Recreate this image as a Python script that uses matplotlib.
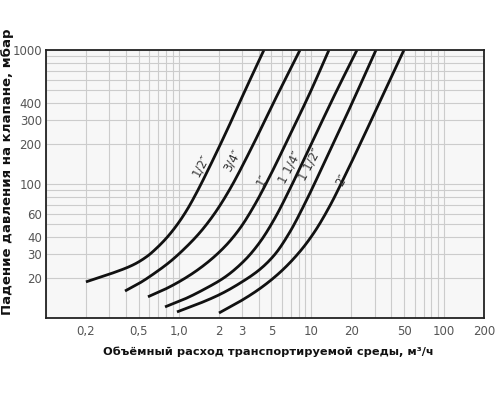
import numpy as np
import matplotlib.pyplot as plt
from matplotlib.ticker import FixedLocator, NullFormatter, LogLocator

# flow rate, m3/h  /  pressure drop, mbar
x_12 = [0.200, 0.303, 0.453, 0.577, 0.686, 0.816, 0.971, 1.155, 1.374, 1.721, 2.312, 3.16, 4.39]
y_12 = [18.6, 21.3, 24.9, 28.8, 33.4, 39.9, 49.5, 64.1, 87.3, 136.2, 251.6, 497, 1000]

x_34 = [0.394, 0.511, 0.663, 0.860, 1.116, 1.447, 1.877, 2.435, 3.445, 5.32, 8.21]
y_34 = [15.9, 18.3, 21.7, 26.3, 33.2, 43.5, 60.8, 91.8, 176.3, 425.4, 1000]

x_1 = [0.587, 0.789, 1.116, 1.578, 2.233, 2.897, 3.758, 4.88, 6.90, 9.76, 13.57]
y_1 = [14.4, 16.4, 19.8, 25.1, 34.2, 46.7, 70.5, 115, 232.7, 478.8, 1000]

x_114 = [0.789, 1.116, 1.578, 2.233, 3.16, 4.10, 5.32, 6.90, 9.76, 15.06, 22.07]
y_114 = [12.1, 13.9, 16.5, 20.2, 27.1, 36.9, 55.8, 92.2, 189.7, 467.5, 1000]

x_112 = [0.971, 1.447, 2.047, 2.897, 4.10, 5.32, 6.90, 8.95, 12.66, 19.54, 30.68]
y_112 = [11.1, 12.9, 15.0, 18.2, 23.1, 29.9, 44.0, 71.8, 147.7, 371.6, 1000]

x_2 = [2.013, 2.897, 4.10, 5.80, 8.21, 10.64, 13.81, 17.92, 25.34, 35.86, 49.86]
y_2 = [10.9, 13.3, 16.6, 21.9, 31.4, 44.4, 68.9, 115.3, 237.4, 497, 1000]

curves = [(x_12, y_12), (x_34, y_34), (x_1, y_1), (x_114, y_114), (x_112, y_112), (x_2, y_2)]

names = ['1/2″', '3/4″', '1″', '1 1/4″', '1 1/2″', '2″']
label_x = [1.47, 2.52, 4.24, 6.9, 9.76, 17.0]
label_y = [139, 151, 107, 132, 139, 107]

xticks = [0.2, 0.5, 1, 2, 3, 5, 10, 20, 50, 100, 200]
xticklabels = ['0,2', '0,5', '1,0', '2', '3', '5', '10', '20', '50', '100', '200']
yticks = [20, 30, 40, 60, 100, 200, 300, 400, 1000]
yticklabels = ['20', '30', '40', '60', '100', '200', '300', '400', '1000']


def pchip(x, y, t):
    # monotone cubic Hermite, only used to draw a smooth line through the points
    h = np.diff(x)
    d = np.diff(y) / h
    m = np.zeros_like(y)
    m[0], m[-1] = d[0], d[-1]
    for k in range(1, len(x) - 1):
        if d[k - 1] * d[k] > 0:
            w1 = 2 * h[k] + h[k - 1]
            w2 = h[k] + 2 * h[k - 1]
            m[k] = (w1 + w2) / (w1 / d[k - 1] + w2 / d[k])
    i = np.clip(np.searchsorted(x, t) - 1, 0, len(x) - 2)
    s = (t - x[i]) / h[i]
    h00 = 2 * s**3 - 3 * s**2 + 1
    h10 = s**3 - 2 * s**2 + s
    h01 = -2 * s**3 + 3 * s**2
    h11 = s**3 - s**2
    return h00 * y[i] + h10 * h[i] * m[i] + h01 * y[i + 1] + h11 * h[i] * m[i + 1]


fig = plt.figure(figsize=(5, 4), dpi=100)
ax = fig.add_axes([0.092, 0.205, 0.876, 0.67])
ax.set_facecolor('#f7f7f7')
ax.set_xscale('log')
ax.set_yscale('log')
ax.set_xlim(0.1, 200)
ax.set_ylim(10, 1000)

# grid on every log subdivision
ax.xaxis.set_minor_locator(LogLocator(base=10, subs=np.arange(1, 10)))
ax.yaxis.set_minor_locator(LogLocator(base=10, subs=np.arange(1, 10)))
ax.xaxis.set_minor_formatter(NullFormatter())
ax.yaxis.set_minor_formatter(NullFormatter())
ax.grid(True, which='both', color='#cccccc', linewidth=0.8)
ax.set_axisbelow(True)

ax.xaxis.set_major_locator(FixedLocator(xticks))
ax.set_xticklabels(xticklabels)
ax.yaxis.set_major_locator(FixedLocator(yticks))
ax.set_yticklabels(yticklabels)
ax.tick_params(which='both', length=0, labelsize=8.5, labelcolor='#555555')
ax.tick_params(axis='x', pad=5)
ax.tick_params(axis='y', pad=3)

for sp in ax.spines.values():
    sp.set_color('#222222')
    sp.set_linewidth(1.3)

for (xs, ys) in curves:
    lx, ly = np.log10(xs), np.log10(ys)
    t = np.linspace(lx[0], lx[-1], 200)
    ax.plot(10 ** t, 10 ** pchip(lx, ly, t), color='#111111', linewidth=2.0,
            solid_capstyle='butt')

for name, lx, ly in zip(names, label_x, label_y):
    ax.text(lx, ly, name, rotation=62, ha='center', va='center',
            fontsize=8.5, color='#333333')

fig.text(0.536, 0.12, 'Объёмный расход транспортируемой среды, м³/ч',
         ha='center', va='center', fontsize=8.2, fontweight='bold', color='#111111')
fig.text(0.016, 0.57, 'Падение давления на клапане, мбар', rotation=90,
         ha='center', va='center', fontsize=9.5, fontweight='bold', color='#111111')

fig.savefig('out.png', dpi=100)
